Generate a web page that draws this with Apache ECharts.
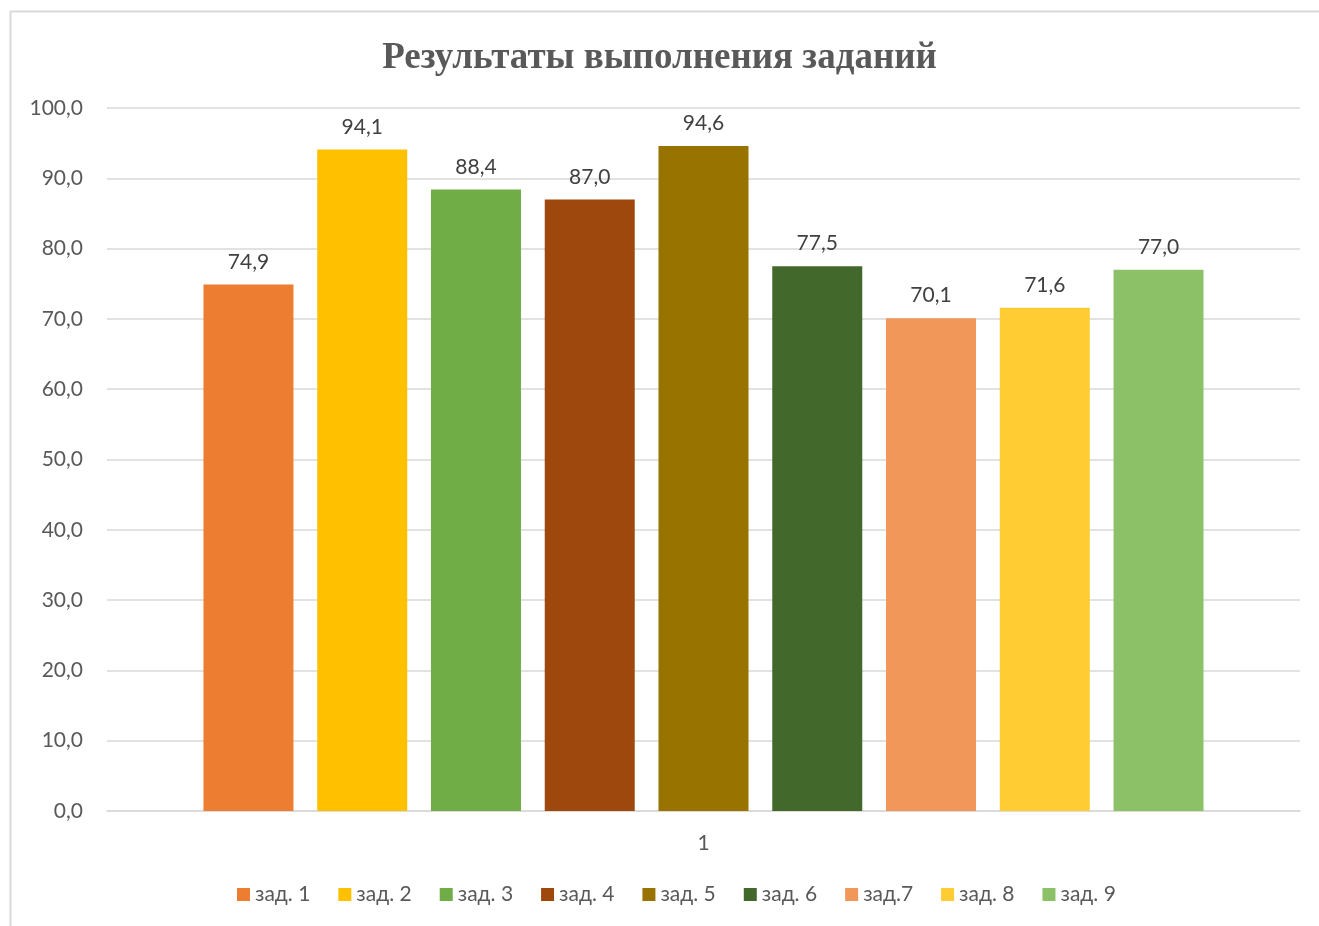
<!DOCTYPE html>
<html>
<head>
<meta charset="utf-8">
<script src="https://cdn.jsdelivr.net/npm/echarts@6/dist/echarts.min.js"></script>
<style>
  html, body { margin: 0; padding: 0; background: #fff; }
  #main { width: 1319px; height: 926px; }
</style>
</head>
<body>
<div id="main"></div>
<script>
var categories = ['1'];
var seriesNames = ['зад. 1', 'зад. 2', 'зад. 3', 'зад. 4', 'зад. 5', 'зад. 6', 'зад.7', 'зад. 8', 'зад. 9'];
var values = [74.9, 94.1, 88.4, 87.0, 94.6, 77.5, 70.1, 71.6, 77.0];
var colors = ['#ED7D31', '#FFC000', '#70AD47', '#9E480E', '#997300', '#43682B', '#F1975A', '#FFCD33', '#8CC168'];
var yTicks = [0, 10, 20, 30, 40, 50, 60, 70, 80, 90, 100];

var fmt = function (v) { return Number(v).toFixed(1).replace('.', ','); };
var font = 'Lato, "Open Sans", sans-serif';

var myChart = echarts.init(document.getElementById('main'));

var option = {
  backgroundColor: '#fff',
  color: colors,
  title: {
    text: 'Результаты выполнения заданий',
    left: 'center',
    top: 35,
    textStyle: {
      fontFamily: '"Liberation Serif", "DejaVu Serif", serif',
      fontWeight: 'bold',
      fontSize: 37,
      color: '#595959'
    }
  },
  graphic: [{
    type: 'rect',
    shape: { x: 10.5, y: 11.5, width: 1340, height: 940 },
    style: { fill: 'none', stroke: '#D9D9D9', lineWidth: 2 },
    silent: true
  }],
  legend: {
    data: seriesNames,
    bottom: 16,
    left: 232,
    itemWidth: 13,
    itemHeight: 13,
    itemGap: 28,
    icon: 'rect',
    textStyle: { fontFamily: font, fontSize: 21, color: '#595959', padding: [0, 0, 0, 0] }
  },
  grid: { left: 107, right: 19, top: 108, bottom: 115 },
  xAxis: {
    type: 'category',
    data: categories,
    axisLine: { lineStyle: { color: '#D9D9D9', width: 1.5 } },
    axisTick: { show: false },
    axisLabel: { fontFamily: font, fontSize: 21, color: '#595959', margin: 22 }
  },
  yAxis: {
    type: 'value',
    min: yTicks[0],
    max: yTicks[yTicks.length - 1],
    interval: 10,
    axisLine: { show: false },
    axisTick: { show: false },
    splitLine: { lineStyle: { color: '#D9D9D9', width: 1.5 } },
    axisLabel: { fontFamily: font, fontSize: 21, color: '#595959', margin: 24, formatter: fmt }
  },
  series: seriesNames.map(function (name, i) {
    return {
      name: name,
      type: 'bar',
      data: [values[i]],
      barWidth: 90,
      barGap: '26.4%',
      itemStyle: { color: colors[i] },
      label: {
        show: true,
        position: 'top',
        distance: 12,
        fontFamily: font,
        fontSize: 21,
        color: '#404040',
        formatter: function (p) { return fmt(p.value); }
      }
    };
  })
};

myChart.setOption(option);
</script>
</body>
</html>
